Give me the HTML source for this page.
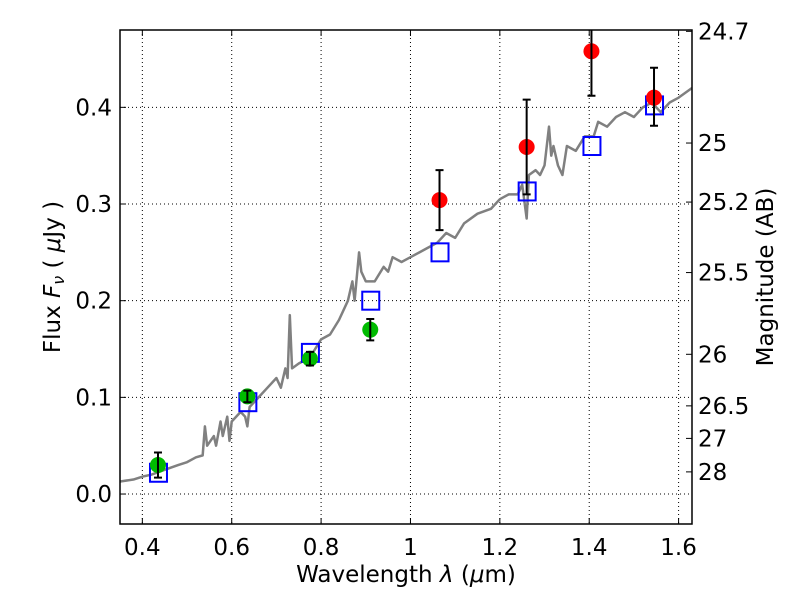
<!DOCTYPE html>
<html><head><meta charset="utf-8"><style>
body{margin:0;background:#fff}
svg{display:block;font-family:"DejaVu Sans","Liberation Sans",sans-serif}
</style></head><body>
<svg id="c" width="800" height="600" viewBox="0 0 800 600"></svg>
<script>
const xTicks=[0.4,0.6,0.8,1.0,1.2,1.4,1.6];
const xTickLabels=["0.4","0.6","0.8","1","1.2","1.4","1.6"];
const yTicks=[0,0.1,0.2,0.3,0.4];
const yTickLabels=["0.0","0.1","0.2","0.3","0.4"];
const magTicks=[24.7,25,25.2,25.5,26,26.5,27,28];
const magLabels=["24.7","25","25.2","25.5","26","26.5","27","28"];
const greenX=[0.435,0.635,0.775,0.91];
const greenY=[0.03,0.101,0.14,0.17];
const greenErr=[0.013,0.006,0.007,0.011];
const redX=[1.065,1.26,1.405,1.545];
const redY=[0.304,0.359,0.458,0.41];
const redErrLo=[0.031,0.049,0.046,0.029];
const redErrHi=[0.031,0.049,0.046,0.031];
const modelX=[0.435,0.635,0.775,0.91,1.065,1.26,1.405,1.545];
const modelY=[0.022,0.095,0.146,0.2,0.25,0.313,0.36,0.402];
const specX=[0.35,0.38,0.40,0.42,0.45,0.48,0.50,0.52,0.535,0.54,0.545,0.56,0.565,0.575,0.58,0.59,0.595,0.60,0.62,0.63,0.635,0.64,0.66,0.68,0.70,0.71,0.72,0.725,0.73,0.735,0.75,0.77,0.78,0.80,0.82,0.84,0.86,0.87,0.875,0.885,0.89,0.90,0.92,0.94,0.95,0.96,0.98,1.0,1.02,1.04,1.06,1.08,1.10,1.12,1.15,1.18,1.2,1.22,1.24,1.25,1.26,1.265,1.28,1.29,1.30,1.31,1.315,1.32,1.33,1.34,1.35,1.37,1.39,1.41,1.42,1.44,1.46,1.48,1.50,1.52,1.54,1.56,1.58,1.60,1.63];
const specY=[0.013,0.015,0.018,0.02,0.025,0.03,0.033,0.038,0.04,0.07,0.05,0.06,0.05,0.075,0.06,0.08,0.055,0.075,0.085,0.08,0.07,0.09,0.1,0.11,0.12,0.11,0.13,0.12,0.185,0.13,0.135,0.14,0.145,0.16,0.165,0.18,0.2,0.22,0.2,0.25,0.23,0.22,0.22,0.235,0.23,0.245,0.24,0.245,0.25,0.255,0.26,0.27,0.265,0.28,0.29,0.295,0.305,0.31,0.31,0.32,0.285,0.33,0.335,0.33,0.34,0.38,0.35,0.36,0.34,0.33,0.36,0.355,0.37,0.37,0.385,0.38,0.39,0.395,0.39,0.4,0.405,0.395,0.405,0.41,0.42];

const L=120,R=692,T=30,B=524,X0=0.35,X1=1.63,Y0=-0.031,Y1=0.48;
const FS=23;
const sx=v=>L+(v-X0)/(X1-X0)*(R-L);
const sy=v=>B-(v-Y0)/(Y1-Y0)*(B-T);
const NS="http://www.w3.org/2000/svg";
const svg=document.getElementById('c');
function mk(tag,at,parent){const e=document.createElementNS(NS,tag);for(const k in at)e.setAttribute(k,at[k]);(parent||svg).appendChild(e);return e;}
const clip=mk('clipPath',{id:'pc'});mk('rect',{x:L,y:T,width:R-L,height:B-T},clip);

xTicks.forEach((v,i)=>{
 const g=mk('line',{x1:sx(v),x2:sx(v),y1:T,y2:B,stroke:'#000','stroke-width':1,'stroke-dasharray':'1,3'});
 
 
 mk('line',{x1:sx(v),x2:sx(v),y1:B,y2:B-6,stroke:'#000'});
 mk('line',{x1:sx(v),x2:sx(v),y1:T,y2:T+6,stroke:'#000'});
 const t=mk('text',{x:sx(v),y:B+31,'text-anchor':'middle','font-size':FS});t.textContent=xTickLabels[i];
 
 
});
yTicks.forEach((v,i)=>{
 const g=mk('line',{x1:L,x2:R,y1:sy(v),y2:sy(v),stroke:'#000','stroke-width':1,'stroke-dasharray':'1,3'});
 
 
 mk('line',{x1:L,x2:L+6,y1:sy(v),y2:sy(v),stroke:'#000'});
 const t=mk('text',{x:L-8,y:sy(v)+8,'text-anchor':'end','font-size':FS});t.textContent=yTickLabels[i];
 
 
});
magTicks.forEach((m,i)=>{
 const f=Math.pow(10,(23.9-m)/2.5);const y=sy(f);
 mk('line',{x1:R,x2:R-6,y1:y,y2:y,stroke:'#000'});
 const t=mk('text',{x:R+6,y:y+8,'font-size':FS});t.textContent=magLabels[i];
 
 
});

const pg=mk('g',{'clip-path':'url(#pc)'});
const sp=mk('polyline',{points:specX.map((x,i)=>sx(x)+','+sy(specY[i])).join(' '),fill:'none',stroke:'#808080','stroke-width':2.5,'stroke-linejoin':'round'},pg);


modelX.forEach((x,i)=>{
 const r=mk('rect',{x:sx(x)-8,y:sy(modelY[i])-9,width:17,height:18,fill:'none',stroke:'#0000ff','stroke-width':2},pg);
 
 
});
function pt(x,y,lo,hi,col,name){
 const c=mk('circle',{cx:sx(x),cy:sy(y),r:8,fill:col},pg);
 
 
 const a=sy(y+hi),b=sy(y-lo),X=sx(x);
 const e=mk('path',{d:`M${X},${a}V${b}M${X-4},${a}H${X+4}M${X-4},${b}H${X+4}`,stroke:'#000','stroke-width':2,fill:'none'},pg);
 
 
}
greenX.forEach((x,i)=>pt(x,greenY[i],greenErr[i],greenErr[i],'#00bb00','green-data-point'));
redX.forEach((x,i)=>pt(x,redY[i],redErrLo[i],redErrHi[i],'#ff0000','red-data-point'));

const fr=mk('rect',{x:L,y:T,width:R-L,height:B-T,fill:'none',stroke:'#000','stroke-width':1.5});


</script>
<svg style="position:absolute;left:0;top:0" width="800" height="600">
<text x="406" y="582" text-anchor="middle" font-size="23" font-family="DejaVu Sans,Liberation Sans,sans-serif">Wavelength  <tspan font-style="italic">λ</tspan> (<tspan font-style="italic">μ</tspan>m)</text>
<text transform="translate(60,277) rotate(-90)" text-anchor="middle" font-size="23" font-family="DejaVu Sans,Liberation Sans,sans-serif">Flux  <tspan font-style="italic">F</tspan><tspan font-style="italic" font-size="16" dy="4">ν</tspan><tspan dy="-4"> ( </tspan><tspan font-style="italic">μ</tspan>Jy )</text>
<text transform="translate(773,277) rotate(-90)" text-anchor="middle" font-size="23" font-family="DejaVu Sans,Liberation Sans,sans-serif">Magnitude (AB)</text>
</svg>
</body></html>
